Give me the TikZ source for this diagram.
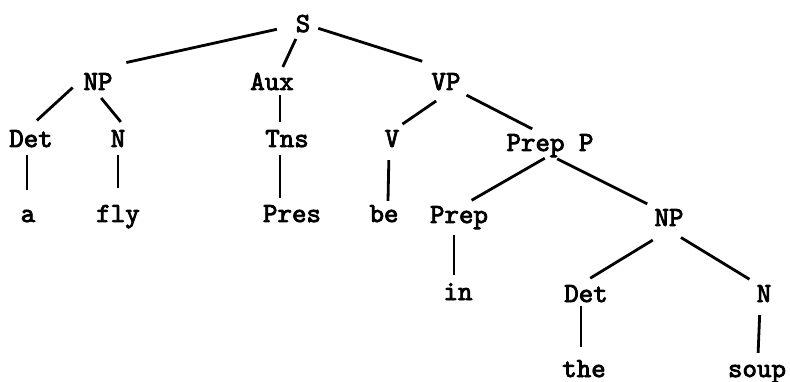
\documentclass[tikz,border=0pt]{standalone}
\usepackage{fontspec}
\newfontfamily\treefont{lmmono10-regular.otf}[FakeBold=3]

\begin{document}
\begin{tikzpicture}[x=1pt,y=-1pt,
    cat/.style={anchor=base,inner sep=4pt,text height=17pt,text depth=0pt,
      font=\treefont\fontsize{27.6}{30}\selectfont},
    branch/.style={line width=2.8pt,shorten <=4pt,shorten >=4pt}]
  \useasboundingbox (0,0) rectangle (790,382);
  \node[cat] (s) at (303,32) {S};
  \node[cat] (np1) at (98,90) {NP};
  \node[cat] (aux) at (272,90) {Aux};
  \node[cat] (vp) at (446,90) {VP};
  \node[cat] (det1) at (31,147) {Det};
  \node[cat] (n1) at (118,147) {N};
  \node[cat] (tns) at (287,147) {Tns};
  \node[cat] (v) at (392,147) {V};
  \node[cat] (pp) at (550,151) {Prep P};
  \node[cat] (a) at (28,222) {a};
  \node[cat] (fly) at (118,222) {fly};
  \node[cat] (pres) at (292,222) {Pres};
  \node[cat] (be) at (384,222) {be};
  \node[cat] (prep) at (459,223) {Prep};
  \node[cat] (np2) at (669,226) {NP};
  \node[cat] (in) at (458,300) {in};
  \node[cat] (det2) at (586,302) {Det};
  \node[cat] (n2) at (764,302) {N};
  \node[cat] (the) at (584,377) {the};
  \node[cat] (soup) at (757,377) {soup};
  \draw[branch,shorten <=15pt,shorten >=29pt] (s) -- (np1.north);
  \draw[branch,shorten <=3pt,shorten >=2pt] (s) -- ([xshift=10pt]aux.north);
  \draw[branch,shorten <=4pt,shorten >=25pt] (s) -- (vp.north);
  \draw[branch,shorten <=9pt,shorten >=8pt] (np1.west) -- (det1.north);
  \draw[branch,shorten <=5pt,shorten >=5pt] (np1.south) -- ([xshift=6pt]n1.north);
  \draw[branch,shorten <=1pt] ([xshift=8pt]aux.south) -- ([xshift=-7pt]tns.north);
  \draw[branch,shorten <=12pt,shorten >=3pt] (vp.south) -- ([xshift=8pt]v.north);
  \draw[branch,shorten <=2pt,shorten >=2pt] (vp.south east) -- ([xshift=-16pt]pp.north);
  \draw[branch,shorten >=11pt] ([xshift=-4pt]det1.south) -- ([xshift=-1pt]a.north);
  \draw[branch,shorten >=13pt] (n1.south) -- (fly.north);
  \draw[branch,shorten >=3pt] ([xshift=-7pt]tns.south) -- ([xshift=-12pt]pres.north);
  \draw[branch,shorten <=9pt,shorten >=0pt] ([xshift=-3pt]v.south) -- ([xshift=4pt]be.north);
  \draw[branch,shorten <=6pt,shorten >=3pt] (pp.south) -- ([xshift=10pt]prep.north);
  \draw[branch,shorten <=8pt,shorten >=2pt] (pp.south) -- ([xshift=-20pt]np2.north);
  \draw[branch,shorten <=8pt] ([xshift=-5pt]prep.south) -- ([xshift=-4pt]in.north);
  \draw[branch,shorten <=19pt,shorten >=5pt] (np2.south) -- (det2.north);
  \draw[branch,shorten <=14pt,shorten >=3pt] (np2.south) -- ([xshift=-12pt]n2.north);
  \draw[branch,shorten <=0pt,shorten >=9pt] ([xshift=-5pt]det2.south) -- ([xshift=-3pt]the.north);
  \draw[branch,shorten <=9pt,shorten >=3pt] ([xshift=-4pt]n2.south) -- ([xshift=1pt]soup.north);
\end{tikzpicture}
\end{document}
